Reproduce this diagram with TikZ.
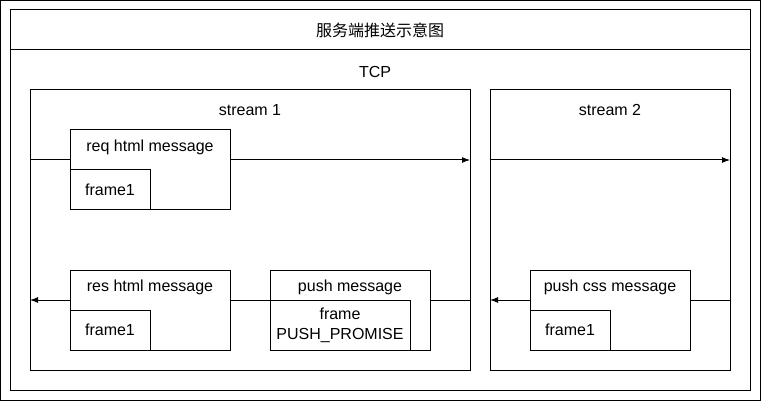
\documentclass[tikz,border=0pt]{standalone}
\usepackage{fontspec}
\setmainfont{Liberation Sans}
\newfontfamily\cjk{Noto Sans CJK SC}
\usetikzlibrary{arrows.meta}
\begin{document}
\begin{tikzpicture}[x=1pt, y=-1pt, line width=1pt, font=\fontsize{16}{20}\selectfont,
    box/.style={draw, fill=white, anchor=north west, inner sep=0pt, outer sep=0pt},
    txt/.style={inner sep=0pt, align=center},
    flow/.style={-{Latex[length=8pt, width=6pt]}}]
        \useasboundingbox (0,0) rectangle (761,401);

        % frame
        \draw (0.5,0.5) rectangle (760.5,400.5);
        \node[box, minimum width=740, minimum height=380] (frame) at (10,10) {};
        \draw (frame.north west |- 0,50) -- (frame.north east |- 0,50);
        \node[txt] (title) at (380,30) {\cjk 服务端推送示意图};
        \node[txt] (tcp) at (375,72) {TCP};

        % streams
        \node[box, minimum width=440, minimum height=280] (s1) at (30,90) {};
        \node[box, minimum width=240, minimum height=280] (s2) at (490,90) {};
        \node[txt] (s1label) at (250,110) {stream 1};
        \node[txt] (s2label) at (610,110) {stream 2};

        % arrows
        \coordinate (a1s) at (30,160);
        \coordinate (a1e) at (470,160);
        \coordinate (a2s) at (490,160);
        \coordinate (a2e) at (730,160);
        \coordinate (b1s) at (470,300);
        \coordinate (b1e) at (30,300);
        \coordinate (b2s) at (730,300);
        \coordinate (b2e) at (490,300);
        \draw[flow] (a1s) -- (a1e);
        \draw[flow] (a2s) -- (a2e);
        \draw[flow] (b1s) -- (b1e);
        \draw[flow] (b2s) -- (b2e);

        % request
        \node[box, minimum width=160, minimum height=80] (req) at (70,130) {};
        \node[box, minimum width=80, minimum height=40] (reqf) at (70,170) {};
        \node[txt] (reqlabel) at (150,147) {req html message};
        \node[txt] (reqflabel) at (110,190) {frame1};

        % response
        \node[box, minimum width=160, minimum height=80] (res) at (70,270) {};
        \node[box, minimum width=80, minimum height=40] (resf) at (70,310) {};
        \node[txt] (reslabel) at (150,287) {res html message};
        \node[txt] (resflabel) at (110,330) {frame1};

        % push
        \node[box, minimum width=160, minimum height=80] (push) at (270,270) {};
        \node[box, minimum width=140, minimum height=50] (pushf) at (270,300) {};
        \node[txt] (pushlabel) at (350,287) {push message};
        \node[txt] (pushflabel) at (340,325) {frame\\PUSH\_PROMISE};

        % push css
        \node[box, minimum width=160, minimum height=80] (css) at (530,270) {};
        \node[box, minimum width=80, minimum height=40] (cssf) at (530,310) {};
        \node[txt] (csslabel) at (610,287) {push css message};
        \node[txt] (cssflabel) at (570,330) {frame1};
    \end{tikzpicture}
\end{document}
